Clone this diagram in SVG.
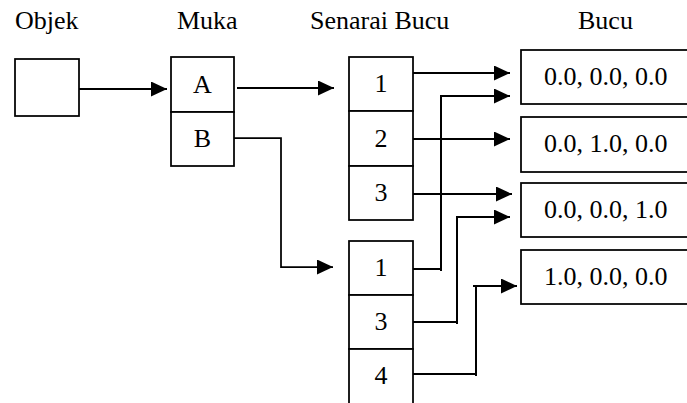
<svg xmlns="http://www.w3.org/2000/svg" width="687" height="403" viewBox="0 0 687 403">
<defs>
<style>
text{font-family:"Liberation Serif","Times New Roman",serif;font-size:26px;fill:#000}
.c{text-anchor:middle}
.box{fill:#fff;stroke:#000;stroke-width:1.75}
.ln{fill:none;stroke:#000;stroke-width:2;stroke-linejoin:miter}
.thin{fill:none;stroke:#000;stroke-width:1.75}
</style>
<marker id="ah" markerUnits="userSpaceOnUse" markerWidth="17" markerHeight="16" refX="16" refY="7.5" orient="auto">
<path d="M0,0 L16,7.5 L0,15 Z" fill="#000"/>
</marker>
</defs>
<rect width="687" height="403" fill="#fff"/>
<g id="headings">
<text x="15" y="29">Objek</text>
<text x="177" y="29">Muka</text>
<text x="310" y="29">Senarai Bucu</text>
<text x="578" y="29">Bucu</text>
</g>
<g id="objek"><rect class="box" x="15" y="59" width="64" height="57"/></g>
<g id="muka">
<rect class="box" x="171" y="57" width="63" height="55"/>
<rect class="box" x="171" y="112" width="63" height="54"/>
<text class="c" x="202.5" y="93">A</text>
<text class="c" x="202.5" y="147">B</text>
</g>
<g id="senarai1">
<rect class="box" x="349" y="57" width="64" height="54"/>
<rect class="box" x="349" y="111" width="64" height="55"/>
<rect class="box" x="349" y="166" width="64" height="54"/>
<text class="c" x="381" y="92">1</text>
<text class="c" x="381" y="147">2</text>
<text class="c" x="381" y="201">3</text>
</g>
<g id="senarai2">
<rect class="box" x="349" y="241" width="64" height="54"/>
<rect class="box" x="349" y="295" width="64" height="54"/>
<rect class="box" x="349" y="349" width="64" height="56"/>
<text class="c" x="381" y="276">1</text>
<text class="c" x="381" y="330">3</text>
<text class="c" x="381" y="384">4</text>
</g>
<g id="bucu1"><rect class="box" x="521" y="50" width="180" height="54"/><text x="544" y="85">0.0, 0.0, 0.0</text></g>
<g id="bucu2"><rect class="box" x="521" y="117" width="180" height="55"/><text x="544" y="152">0.0, 1.0, 0.0</text></g>
<g id="bucu3"><rect class="box" x="521" y="183" width="180" height="54"/><text x="544" y="218">0.0, 0.0, 1.0</text></g>
<g id="bucu4"><rect class="box" x="521" y="250" width="180" height="54"/><text x="544" y="285">1.0, 0.0, 0.0</text></g>
<g id="connectors">
<line class="ln" x1="79" y1="89" x2="167" y2="89" marker-end="url(#ah)"/>
<line class="ln" x1="237" y1="88" x2="334" y2="88" marker-end="url(#ah)"/>
<polyline class="thin" points="234,138 281,138 281,267 333,267" marker-end="url(#ah)"/>
<line class="ln" x1="413" y1="73" x2="510" y2="73" marker-end="url(#ah)"/>
<line class="ln" x1="413" y1="139" x2="510" y2="139" marker-end="url(#ah)"/>
<line class="ln" x1="413" y1="194" x2="512" y2="194" marker-end="url(#ah)"/>
<polyline class="ln" points="413,269 441,269" />
<polyline class="ln" points="441,271 441,96 510,96" marker-end="url(#ah)"/>
<polyline class="ln" points="413,322 457,322" />
<polyline class="ln" points="457,324 457,217 510,217" marker-end="url(#ah)"/>
<polyline class="ln" points="413,374 476,374" />
<polyline class="ln" points="476,376 476,286 473,286 517,286" marker-end="url(#ah)"/>
</g>
</svg>
